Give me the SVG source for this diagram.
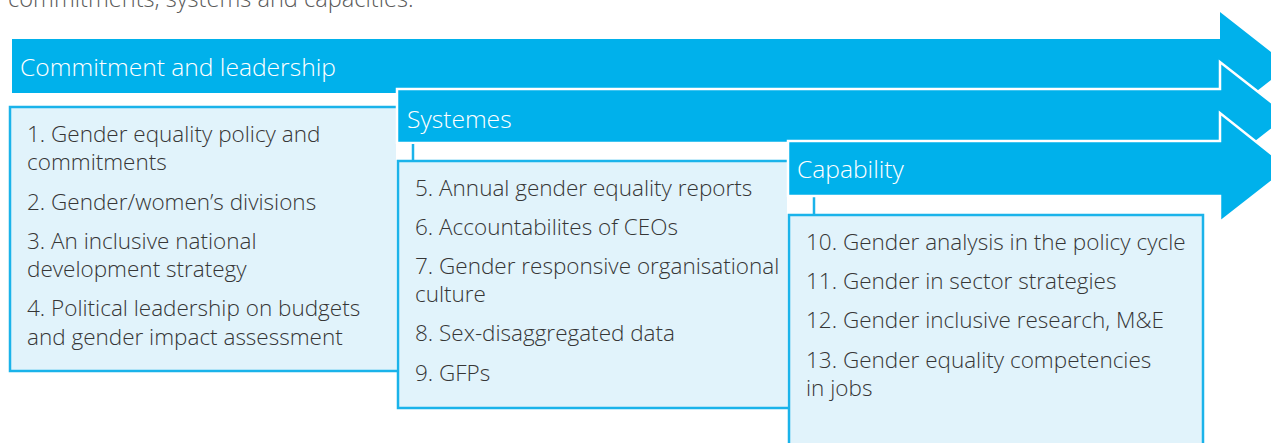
<svg xmlns="http://www.w3.org/2000/svg" width="1271" height="443" viewBox="0 0 1271 443">
<style>
.arrow{fill:#00b1eb}
.arrowo{fill:#00b1eb;stroke:#ffffff;stroke-width:2.5}
.fill{fill:#e1f3fb}
.edge{fill:none;stroke:#1ab3ea;stroke-width:2.5}
.box{fill:#e1f3fb;stroke:#1ab3ea;stroke-width:2.5}
.stub{stroke:#1ab3ea;stroke-width:2.5;fill:none}
.hd{font-family:"Open Sans","Noto Sans",sans-serif;font-size:24.6px;font-weight:300;fill:#ffffff}
.tx{font-family:"Open Sans","Noto Sans",sans-serif;font-size:22.5px;font-weight:300;fill:#363636}
.top{font-family:"Open Sans","Noto Sans",sans-serif;font-size:23.6px;font-weight:300;fill:#5a5a5a}
</style>
<text class="top" x="8" y="7">commitments, systems and capacities.</text>
<g id="node-commitment">
<path class="arrow" d="M12,39 H1220 V12 L1289,66 L1220,120 V93 H12 Z"/>
<text class="hd" x="20" y="76">Commitment and leadership</text>
</g>
<g id="node-box1">
<rect class="fill" x="10" y="107" width="386" height="264"/>
<path class="edge" d="M397,107 H10 V371 H397"/>
<text class="tx" x="27" y="142">1. Gender equality policy and</text>
<text class="tx" x="27" y="170">commitments</text>
<text class="tx" x="27" y="210">2. Gender/women’s divisions</text>
<text class="tx" x="27" y="249">3. An inclusive national</text>
<text class="tx" x="27" y="277">development strategy</text>
<text class="tx" x="27" y="316">4. Political leadership on budgets</text>
<text class="tx" x="27" y="345">and gender impact assessment</text>
</g>
<g id="node-systemes">
<path class="arrowo" d="M397,89 H1220 V62 L1289,116 L1220,170 V143 H397 Z"/>
<text class="hd" x="407" y="128">Systemes</text>
</g>
<g id="connectors">
<line class="stub" x1="413" y1="144" x2="413" y2="161"/>
<line class="stub" x1="814" y1="196" x2="814" y2="215"/>
</g>
<g id="node-box2">
<rect class="fill" x="398" y="161" width="389" height="247"/>
<path class="edge" d="M789,161 H398 V408 H789"/>
<text class="tx" x="415" y="196">5. Annual gender equality reports</text>
<text class="tx" x="415" y="235">6. Accountabilites of CEOs</text>
<text class="tx" x="415" y="274">7. Gender responsive organisational</text>
<text class="tx" x="415" y="302">culture</text>
<text class="tx" x="415" y="341">8. Sex-disaggregated data</text>
<text class="tx" x="415" y="381">9. GFPs</text>
</g>
<g id="node-capability">
<path class="arrowo" d="M788,141 H1220 V113 L1289,168 L1220,222 V196 H788 Z"/>
<text class="hd" x="797" y="178">Capability</text>
</g>
<g id="node-box3">
<rect class="box" x="789" y="215" width="414" height="240"/>
<text class="tx" x="806" y="250">10. Gender analysis in the policy cycle</text>
<text class="tx" x="806" y="289">11. Gender in sector strategies</text>
<text class="tx" x="806" y="328">12. Gender inclusive research, M&amp;E</text>
<text class="tx" x="806" y="368">13. Gender equality competencies</text>
<text class="tx" x="806" y="396">in jobs</text>
</g>
</svg>
